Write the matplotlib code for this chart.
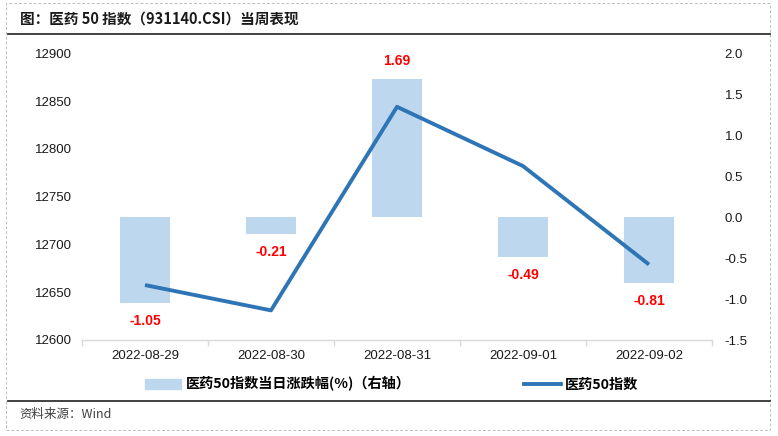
import numpy as np
import matplotlib.pyplot as plt
from matplotlib.patches import Rectangle
from matplotlib.lines import Line2D

plt.rcParams['font.family'] = ['Liberation Sans', 'Noto Sans CJK SC', 'DejaVu Sans']

# 数据
datas = ['2022-08-29', '2022-08-30', '2022-08-31', '2022-09-01', '2022-09-02']
indice = [12657.5, 12631, 12844, 12782, 12679]
variacao = [-1.05, -0.21, 1.69, -0.49, -0.81]

cor_barra = '#BDD7EE'
cor_linha = '#2E75B6'
cjk = ['Noto Sans CJK SC', 'Liberation Sans']

fig = plt.figure(figsize=(7.78, 4.36), dpi=100)

# moldura tracejada e linhas de separação
fig.add_artist(Rectangle((6/778, 1 - 430/436), 764/778, 427/436, transform=fig.transFigure,
                         fill=False, edgecolor='#BFBFBF', linestyle=(0, (3, 2)), linewidth=0.7))
fig.add_artist(Line2D([8/778, 770/778], [1 - 34/436] * 2, color='#333333', linewidth=1.3))
fig.add_artist(Line2D([8/778, 770/778], [1 - 401/436] * 2, color='#333333', linewidth=1.3))

fig.text(20/778, 1 - 19/436, '图：医药 50 指数（931140.CSI）当周表现', family=cjk,
         fontsize=10.5, fontweight='bold', va='center', ha='left', color='#1a1a1a')
fig.text(19/778, 1 - 414/436, '资料来源：Wind', family=cjk, fontsize=9,
         va='center', ha='left', color='#404040')

ax = fig.add_axes([82/778, 1 - 340/436, 630/778, 286.7/436])
ax2 = ax.twinx()
ax.set_zorder(ax2.get_zorder() + 1)
ax.patch.set_visible(False)

x = np.arange(len(datas))

# barras (eixo direito)
ax2.bar(x, variacao, width=0.4, color=cor_barra, zorder=1)
for xi, v in zip(x, variacao):
    off = 18 if v > 0 else -18
    ax2.annotate(f'{v:.2f}', (xi, v), xytext=(0, off), textcoords='offset pixels',
                 ha='center', va='center', color='red', fontweight='bold', fontsize=10)
ax2.set_ylim(-1.5, 2.0)
ax2.set_yticks(np.arange(-1.5, 2.01, 0.5))
ax2.set_yticklabels([f'{v:.1f}' for v in np.arange(-1.5, 2.01, 0.5)])

# linha (eixo esquerdo)
ax.plot(x, indice, color=cor_linha, linewidth=2.8, solid_capstyle='butt', zorder=3)
ax.set_ylim(12600, 12900)
ax.set_yticks(np.arange(12600, 12901, 50))
ax.set_xlim(-0.5, len(datas) - 0.5)
ax.set_xticks(x)
ax.set_xticklabels(datas)
ax.set_xticks(np.arange(-0.5, len(datas), 1), minor=True)

for a in (ax, ax2):
    for s in a.spines.values():
        s.set_visible(False)
ax.spines['bottom'].set_visible(True)
ax.spines['bottom'].set_color('#D9D9D9')
ax.spines['bottom'].set_linewidth(1)

ax.tick_params(axis='y', length=0, pad=7, labelsize=9.5, labelcolor='#1a1a1a')
ax2.tick_params(axis='y', length=0, pad=9, labelsize=9.5, labelcolor='#1a1a1a')
ax.tick_params(axis='x', which='major', length=0, pad=7, labelsize=9.5, labelcolor='#1a1a1a')
ax.tick_params(axis='x', which='minor', length=4, color='#D9D9D9', width=1)

# legenda
handles = [Rectangle((0, 0), 1, 1, color=cor_barra),
           Line2D([0], [0], color=cor_linha, linewidth=2.8)]
labels = ['医药50指数当日涨跌幅(%)（右轴）', '医药50指数']
fig.legend(handles, labels, loc='center', bbox_to_anchor=(0.503, 1 - 384/436), ncol=2,
           frameon=False, prop={'family': cjk, 'size': 10.2, 'weight': 'bold'},
           handlelength=2.6, handletextpad=0.3, columnspacing=8.0)

fig.savefig('out.png', dpi=100)
